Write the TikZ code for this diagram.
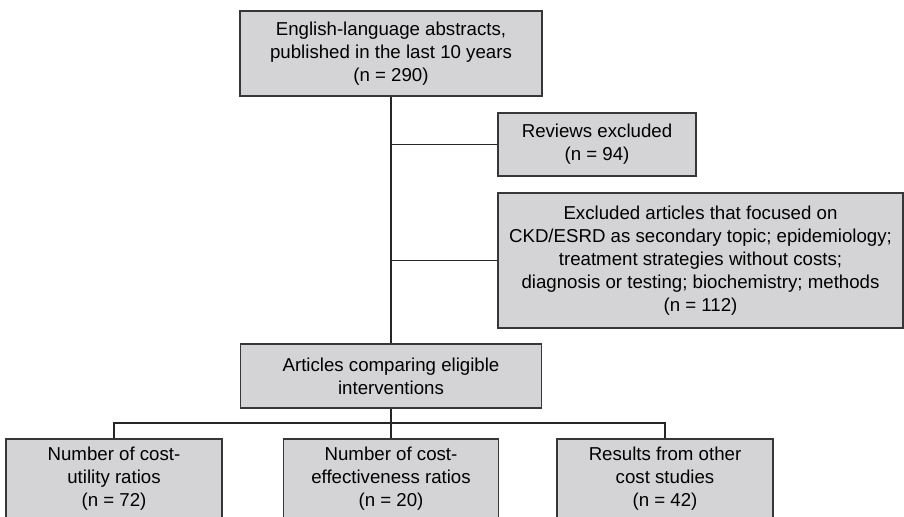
\documentclass[tikz,border=0pt]{standalone}
\usepackage{fontspec}
\setmainfont{Liberation Sans}
\definecolor{boxfill}{RGB}{212,212,214}
\definecolor{boxline}{RGB}{55,55,55}
\begin{document}
\begin{tikzpicture}[x=0.75pt,y=-0.75pt,
  flowbox/.style={draw=boxline,fill=boxfill,line width=0.9pt,inner sep=0pt,align=center,
    font=\fontsize{14pt}{17.25pt}\selectfont},
  link/.style={draw=black!85,line width=0.9pt}]
\useasboundingbox (0,0) rectangle (904,517);
\clip (0,0) rectangle (904,517);
\node[flowbox,minimum width=226.5pt,minimum height=63.75pt] (top) at (391,53.5)
  {English-language abstracts,\\published in the last 10 years\\(n = 290)};
\node[flowbox,minimum width=148.5pt,minimum height=47.25pt] (rev) at (597,144.5)
  {Reviews excluded\\(n = 94)};
\node[flowbox,minimum width=303.75pt,minimum height=101.25pt] (exc) at (700.5,260.5)
  {Excluded articles that focused on\\CKD/ESRD as secondary topic; epidemiology;\\treatment strategies without costs;\\diagnosis or testing; biochemistry; methods\\(n = 112)};
\node[flowbox,minimum width=225.75pt,minimum height=48pt] (art) at (391,376)
  {Articles comparing eligible\\interventions};
\node[flowbox,minimum width=162pt,minimum height=60pt] (b1) at (114,479)
  {Number of cost-\\utility ratios\\(n = 72)};
\node[flowbox,minimum width=161.25pt,minimum height=60pt] (b2) at (391,479)
  {Number of cost-\\effectiveness ratios\\(n = 20)};
\node[flowbox,minimum width=162pt,minimum height=60pt] (b3) at (665,479)
  {Results from other\\cost studies\\(n = 42)};
\coordinate (split) at (391,423);
\draw[link] (top.south) -- (art.north);
\draw[link] (top.south |- rev.west) -- (rev.west);
\draw[link] (top.south |- exc.west) -- (exc.west);
\draw[link] (art.south) -- (split);
\draw[link] (b1.north) |- (split) -| (b3.north);
\draw[link] (split) -- (b2.north);
\end{tikzpicture}
\end{document}
